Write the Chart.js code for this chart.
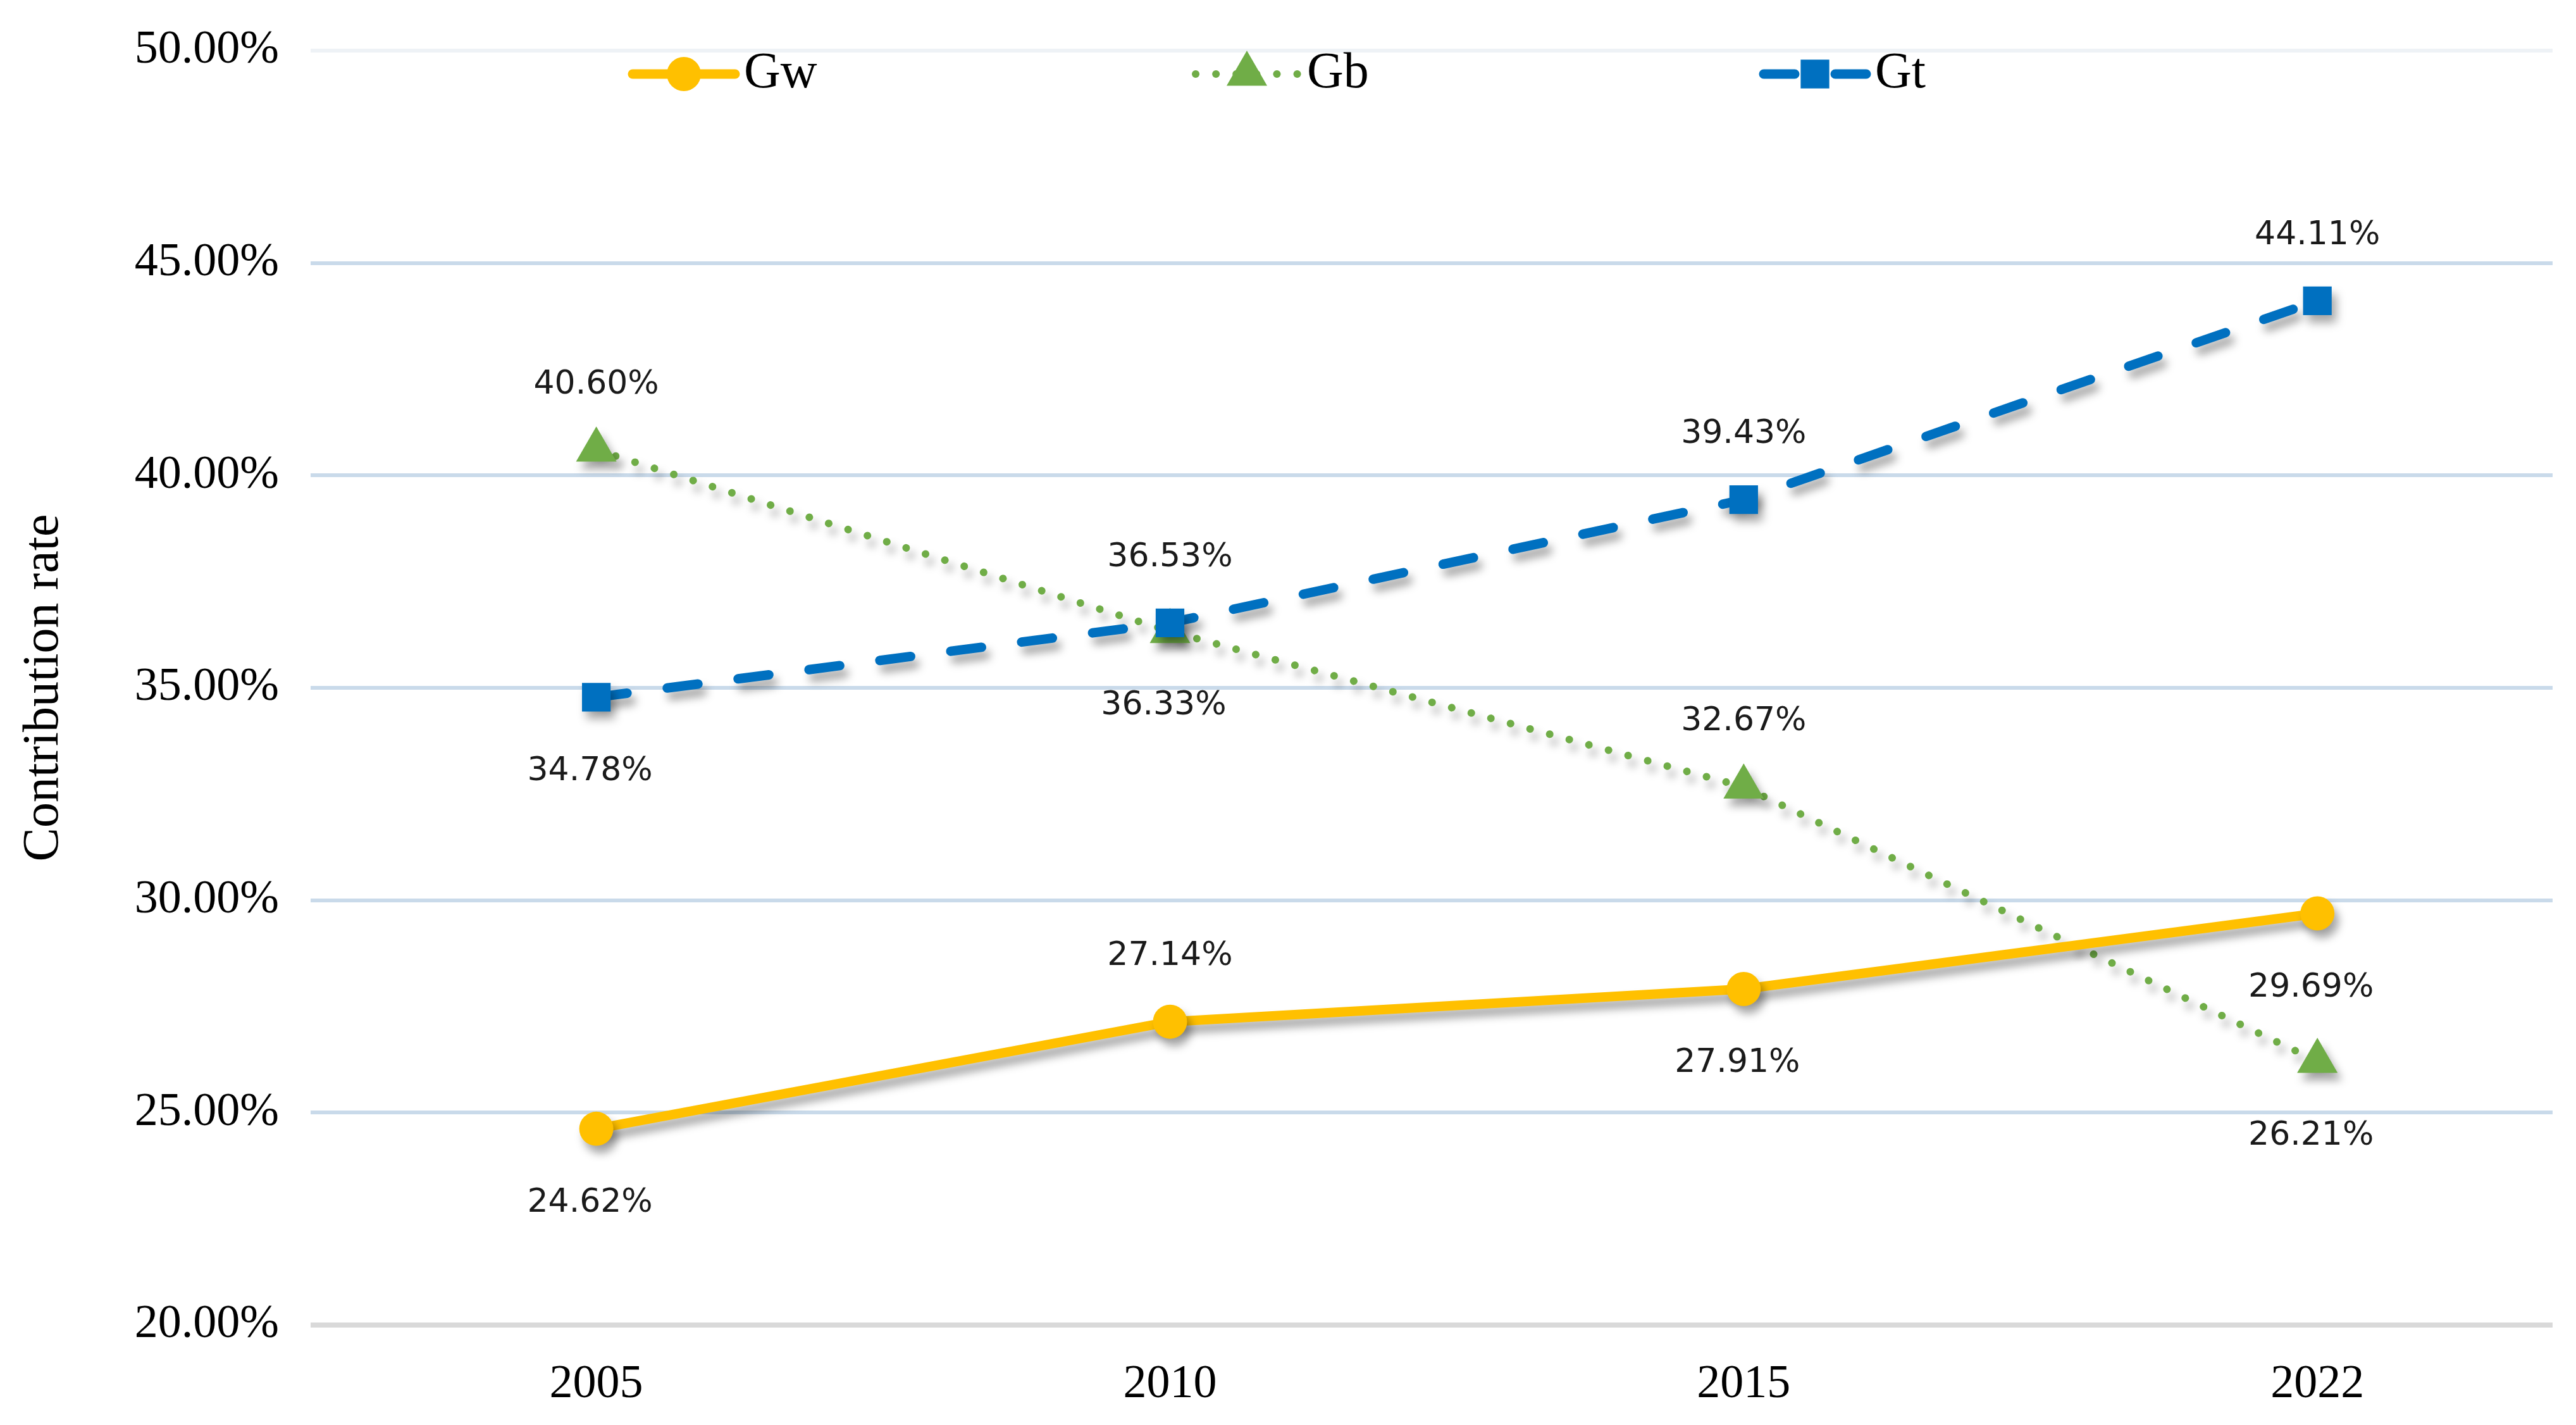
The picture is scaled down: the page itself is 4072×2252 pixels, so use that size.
<!DOCTYPE html>
<html lang="en">
<head>
    <meta charset="UTF-8">
    <title>Contribution rate</title>
    <style>
        body {
            margin: 0;
            padding: 0;
            background: #ffffff;
        }

        #chart {
            display: block;
        }
    </style>
    <script src="https://cdn.jsdelivr.net/npm/chart.js"></script>
</head>
<body>
    <canvas id="chart" width="4072" height="2252"></canvas>
    <script>
        // Chart data
        const years = ['2005', '2010', '2015', '2022'];
        const gw = [24.62, 27.14, 27.91, 29.69];
        const gb = [40.60, 36.33, 32.67, 26.21];
        const gt = [34.78, 36.53, 39.43, 44.11];
        const yTicks = [20, 25, 30, 35, 40, 45, 50];

        // where each value label sits relative to its point
        const gwSide = ['below', 'above', 'below', 'below'];
        const gbSide = ['above', 'below', 'above', 'below'];
        const gtSide = ['below', 'above', 'above', 'above'];

        const toPoints = values => values.map((v, i) => ({ x: i, y: v }));

        // Soft drop shadow under lines and markers
        const shadowPlugin = {
            id: 'shadow',
            beforeDatasetsDraw(chart) {
                const ctx = chart.ctx;
                ctx.save();
                ctx.shadowColor = 'rgba(0, 0, 0, 0.35)';
                ctx.shadowBlur = 14;
                ctx.shadowOffsetX = 7;
                ctx.shadowOffsetY = 12;
            },
            afterDatasetsDraw(chart) {
                chart.ctx.restore();
            }
        };

        // Value labels above / below each point
        const valueLabels = {
            id: 'valueLabels',
            afterDraw(chart) {
                const ctx = chart.ctx;
                ctx.save();
                ctx.font = '52px "DejaVu Sans"';
                ctx.fillStyle = '#1a1a1a';
                ctx.textAlign = 'center';
                ctx.textBaseline = 'middle';
                chart.data.datasets.forEach((ds, di) => {
                    const meta = chart.getDatasetMeta(di);
                    meta.data.forEach((pt, i) => {
                        const above = ds.labelSide[i] === 'above';
                        const dy = above ? -103 : 118;
                        const dx = above ? 0 : -10;
                        ctx.fillText(ds.data[i].y.toFixed(2) + '%', pt.x + dx, pt.y + dy);
                    });
                });
                ctx.restore();
            }
        };

        // Legend drawn inside the top of the plot: line sample + marker + name
        const legendX = [1000, 1890, 2788];
        const legendY = 117;
        const insideLegend = {
            id: 'insideLegend',
            afterDraw(chart) {
                const ctx = chart.ctx;
                const legendOrder = ['Gw', 'Gb', 'Gt'];
                legendOrder.forEach((name, k) => {
                    const ds = chart.data.datasets.find(d => d.label === name);
                    const x0 = legendX[k];
                    const w = 162;
                    ctx.save();
                    ctx.strokeStyle = ds.borderColor;
                    ctx.lineWidth = ds.borderWidth;
                    ctx.lineCap = ds.borderCapStyle || 'butt';
                    ctx.setLineDash(ds.borderDash || []);
                    ctx.beginPath();
                    ctx.moveTo(x0, legendY);
                    ctx.lineTo(x0 + w, legendY);
                    ctx.stroke();
                    ctx.setLineDash([]);
                    ctx.fillStyle = ds.pointBackgroundColor;
                    Chart.helpers.drawPoint(ctx, {
                        pointStyle: ds.pointStyle,
                        radius: ds.pointRadius,
                        borderWidth: 0,
                        rotation: 0
                    }, x0 + w / 2, legendY);
                    ctx.font = '80px "Liberation Serif"';
                    ctx.fillStyle = '#000000';
                    ctx.textAlign = 'left';
                    ctx.textBaseline = 'middle';
                    ctx.fillText(name, x0 + w + 14, legendY);
                    ctx.restore();
                });
            }
        };

        const ctx = document.getElementById('chart').getContext('2d');
        new Chart(ctx, {
            type: 'line',
            data: {
                datasets: [
                    {
                        label: 'Gw',
                        data: toPoints(gw),
                        labelSide: gwSide,
                        borderColor: '#FFC000',
                        borderWidth: 15,
                        borderCapStyle: 'round',
                        pointStyle: 'circle',
                        pointRadius: 27,
                        pointBackgroundColor: '#FFC000',
                        pointBorderWidth: 0,
                        order: 1
                    },
                    {
                        label: 'Gb',
                        data: toPoints(gb),
                        labelSide: gbSide,
                        borderColor: '#70AD47',
                        borderWidth: 12,
                        borderCapStyle: 'round',
                        borderDash: [0.1, 32],
                        pointStyle: 'triangle',
                        pointRadius: 37,
                        pointBackgroundColor: '#70AD47',
                        pointBorderWidth: 0,
                        order: 2
                    },
                    {
                        label: 'Gt',
                        data: toPoints(gt),
                        labelSide: gtSide,
                        borderColor: '#0070C0',
                        borderWidth: 15,
                        borderCapStyle: 'round',
                        borderDash: [49, 64],
                        pointStyle: 'rect',
                        pointRadius: 32,
                        pointBackgroundColor: '#0070C0',
                        pointBorderWidth: 0,
                        order: 0
                    }
                ]
            },
            options: {
                responsive: false,
                animation: false,
                devicePixelRatio: 1,
                layout: {
                    padding: { top: 80, right: 36, left: 0, bottom: 0 }
                },
                plugins: {
                    legend: { display: false },
                    tooltip: { enabled: false }
                },
                scales: {
                    x: {
                        type: 'linear',
                        min: -0.498,
                        max: 3.41,
                        afterFit: s => { s.height = 158; },
                        afterBuildTicks: s => {
                            s.ticks = years.map((_, i) => ({ value: i }));
                        },
                        ticks: {
                            autoSkip: false,
                            maxRotation: 0,
                            padding: 42,
                            color: '#000000',
                            font: { family: 'Liberation Serif', size: 74 },
                            callback: v => years[v]
                        },
                        grid: { display: false },
                        border: { display: false }
                    },
                    y: {
                        min: 20,
                        max: 50,
                        afterFit: s => {
                            s.width = 491;
                            s.paddingTop = 0;
                            s.paddingBottom = 0;
                        },
                        afterBuildTicks: s => {
                            s.ticks = yTicks.map(v => ({ value: v }));
                        },
                        ticks: {
                            padding: 50,
                            color: '#000000',
                            font: { family: 'Liberation Serif', size: 74 },
                            callback: v => v.toFixed(2) + '%'
                        },
                        title: {
                            display: true,
                            text: 'Contribution rate',
                            color: '#000000',
                            font: { family: 'Liberation Serif', size: 80 },
                            padding: { top: 22, bottom: 0 }
                        },
                        grid: {
                            drawTicks: false,
                            color: c => c.tick.value === 20 ? '#D9D9D9' : (c.tick.value === 50 ? '#EEF2F6' : '#C9DAEA'),
                            lineWidth: c => c.tick.value === 20 ? 8 : 6
                        },
                        border: { display: false }
                    }
                }
            },
            plugins: [shadowPlugin, valueLabels, insideLegend]
        });
    </script>
</body>
</html>
